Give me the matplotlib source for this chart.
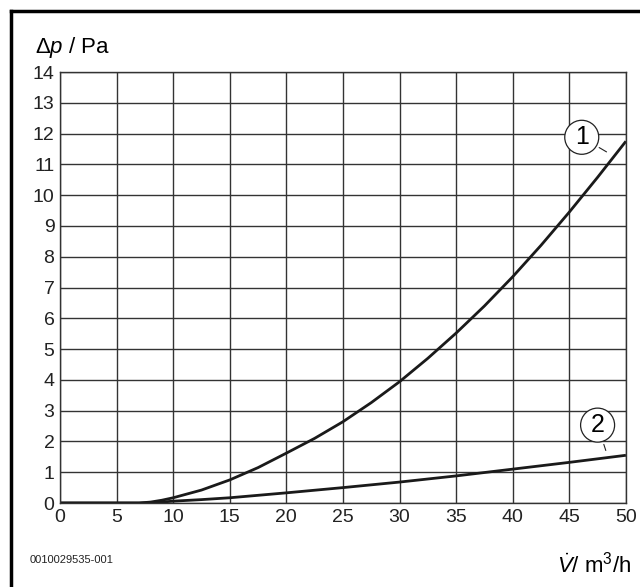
import matplotlib.pyplot as plt
from matplotlib import font_manager
from matplotlib.lines import Line2D

# font: narrow sans if available
names = {f.name for f in font_manager.fontManager.ttflist}
family = "Liberation Sans Narrow" if "Liberation Sans Narrow" in names else "Liberation Sans"
plt.rcParams["font.family"] = [family, "DejaVu Sans"]
plt.rcParams["mathtext.fontset"] = "custom"
plt.rcParams["mathtext.rm"] = family
plt.rcParams["mathtext.it"] = family + ":italic"

# --- DATA ---
flow_1 = [0, 7, 8, 9, 10, 12.5, 15, 17.5, 20, 22.5, 25, 27.5, 30, 32.5, 35, 37.5, 40, 42.5, 45, 47.5, 50]
dp_1 = [0, 0, 0.03, 0.09, 0.17, 0.42, 0.75, 1.15, 1.62, 2.1, 2.64, 3.26, 3.94, 4.7, 5.52, 6.4, 7.35, 8.37, 9.45, 10.58, 11.75]

flow_2 = [0, 7, 8, 9, 10, 12.5, 15, 20, 25, 30, 35, 40, 45, 50]
dp_2 = [0, 0, 0.01, 0.03, 0.06, 0.11, 0.17, 0.33, 0.5, 0.68, 0.88, 1.1, 1.32, 1.55]

x_ticks = list(range(0, 51, 5))
y_ticks = list(range(0, 15))

fig = plt.figure(figsize=(6.4, 5.87), dpi=100)
ax = fig.add_axes([0.09375, 0.1431, 0.8842, 0.7342])

ax.plot(flow_1, dp_1, color="#1a1a1a", linewidth=2.0, solid_capstyle="butt")
ax.plot(flow_2, dp_2, color="#1a1a1a", linewidth=2.0, solid_capstyle="butt")

ax.set_xlim(0, 50)
ax.set_ylim(0, 14)
ax.set_xticks(x_ticks)
ax.set_yticks(y_ticks)
ax.tick_params(length=0, labelsize=14, pad=4, colors="#222222")
ax.grid(True, color="#333333", linewidth=1.0)
for s in ax.spines.values():
    s.set_color("#333333")
    s.set_linewidth(1.0)

# circled curve labels
circ = dict(boxstyle="circle,pad=0.2", fc="white", ec="#222222", lw=0.9)
ax.annotate("1", xy=(48.5, 11.36), xytext=(46.1, 11.88), ha="center", va="center",
            fontsize=18, bbox=circ, arrowprops=dict(arrowstyle="-", lw=0.8, color="#222222"))
ax.annotate("2", xy=(48.3, 1.62), xytext=(47.5, 2.53), ha="center", va="center",
            fontsize=18, bbox=circ, arrowprops=dict(arrowstyle="-", lw=0.8, color="#222222"))

# axis titles
fig.text(35 / 640, 1 - 48 / 587, r"$\Delta p$ / Pa", fontsize=16, ha="left", va="center")
fig.text(631 / 640, 1 - 565 / 587, r"$\dot{V}$/ m$^3$/h", fontsize=16, ha="right", va="center")
fig.text(30 / 640, 1 - 560 / 587, "0010029535-001", fontsize=8, ha="left", va="center", color="#222222")

# frame around the figure (top and left visible)
fig.add_artist(Line2D([11 / 640, 11 / 640], [0, 1 - 11 / 587], transform=fig.transFigure, color="black", lw=2.5))
fig.add_artist(Line2D([11 / 640, 1], [1 - 11 / 587, 1 - 11 / 587], transform=fig.transFigure, color="black", lw=2.5))

fig.savefig("out.png", dpi=100)
